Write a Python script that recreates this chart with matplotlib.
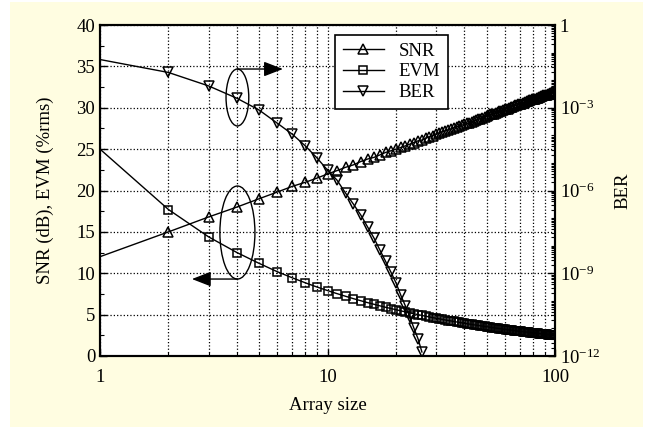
import matplotlib
matplotlib.use("Agg")
import matplotlib.pyplot as plt
from matplotlib.patches import Ellipse, Rectangle
from matplotlib.ticker import MultipleLocator, LogLocator, NullFormatter

plt.rcParams["font.family"] = ["Liberation Serif", "DejaVu Serif"]
plt.rcParams["font.size"] = 13
plt.rcParams["mathtext.fontset"] = "custom"
plt.rcParams["mathtext.rm"] = "Liberation Serif"
plt.rcParams["mathtext.it"] = "Liberation Serif:italic"

# array size 1..100
array_size = list(range(1, 101))

snr_db = [
    12.0, 15.0, 16.8, 18.0, 19.0, 19.8, 20.5, 21.0, 21.5, 22.0,
    22.4, 22.8, 23.1, 23.5, 23.8, 24.0, 24.3, 24.6, 24.8, 25.0,
    25.2, 25.4, 25.6, 25.8, 26.0, 26.1, 26.3, 26.5, 26.6, 26.8,
    26.9, 27.1, 27.2, 27.3, 27.4, 27.6, 27.7, 27.8, 27.9, 28.0,
    28.1, 28.2, 28.3, 28.4, 28.5, 28.6, 28.7, 28.8, 28.9, 29.0,
    29.1, 29.2, 29.2, 29.3, 29.4, 29.5, 29.6, 29.6, 29.7, 29.8,
    29.9, 29.9, 30.0, 30.1, 30.1, 30.2, 30.3, 30.3, 30.4, 30.5,
    30.5, 30.6, 30.6, 30.7, 30.8, 30.8, 30.9, 30.9, 31.0, 31.0,
    31.1, 31.1, 31.2, 31.2, 31.3, 31.3, 31.4, 31.4, 31.5, 31.5,
    31.6, 31.6, 31.7, 31.7, 31.8, 31.8, 31.9, 31.9, 32.0, 32.0,
]

evm_rms = [
    25.0, 17.7, 14.4, 12.5, 11.2, 10.2, 9.45, 8.84, 8.33, 7.91,
    7.54, 7.22, 6.93, 6.68, 6.45, 6.25, 6.06, 5.89, 5.74, 5.59,
    5.46, 5.33, 5.21, 5.10, 5.00, 4.90, 4.81, 4.72, 4.64, 4.56,
    4.49, 4.42, 4.35, 4.29, 4.23, 4.17, 4.11, 4.06, 4.00, 3.95,
    3.90, 3.86, 3.81, 3.77, 3.73, 3.69, 3.65, 3.61, 3.57, 3.54,
    3.50, 3.47, 3.43, 3.40, 3.37, 3.34, 3.31, 3.28, 3.25, 3.23,
    3.20, 3.18, 3.15, 3.13, 3.10, 3.08, 3.05, 3.03, 3.01, 2.99,
    2.97, 2.95, 2.93, 2.91, 2.89, 2.87, 2.85, 2.83, 2.81, 2.80,
    2.78, 2.76, 2.74, 2.73, 2.71, 2.70, 2.68, 2.67, 2.65, 2.64,
    2.62, 2.61, 2.59, 2.58, 2.56, 2.55, 2.54, 2.53, 2.51, 2.50,
]

# BER only down to ~1e-12 (array size 1..26)
ber_size = list(range(1, 27))
ber = [
    5.6e-2, 1.9e-2, 6.2e-3, 2.2e-3, 8.3e-4, 2.8e-4, 1.1e-4, 4.1e-5,
    1.5e-5, 5.5e-6, 2.4e-6, 8.1e-7, 3.2e-7, 1.3e-7, 4.8e-8, 1.9e-8,
    6.9e-9, 2.7e-9, 1.1e-9, 4.5e-10, 1.6e-10, 6.5e-11, 2.6e-11,
    1.0e-11, 4.2e-12, 1.4e-12,
]

fig = plt.figure(figsize=(6.49, 4.28), dpi=100, facecolor="white")
fig.patches.append(Rectangle((10 / 649, 1 - 427 / 428), 633 / 649, 425 / 428,
                             transform=fig.transFigure, facecolor="#fffde1",
                             edgecolor="none", zorder=-10))
ax = fig.add_axes([100 / 649, 1 - 356 / 428, 455 / 649, 331 / 428])
ax2 = ax.twinx()

line_kw = dict(color="black", lw=1.0, mfc="none", mec="black", mew=1.1)
l1, = ax.plot(array_size, snr_db, marker="^", ms=7, markevery=slice(1, None),
              label="SNR", **line_kw)
l2, = ax.plot(array_size, evm_rms, marker="s", ms=6, markevery=slice(1, None),
              label="EVM", **line_kw)
l3, = ax2.plot(ber_size, ber, marker="v", ms=7, markevery=slice(1, None),
               label="BER", **line_kw)

ax.set_xscale("log")
ax.set_xlim(1, 100)
ax.set_ylim(0, 40)
ax.set_xticks([1, 10, 100])
ax.set_xticklabels(["1", "10", "100"])
ax.xaxis.set_minor_locator(LogLocator(base=10, subs=range(2, 10)))
ax.xaxis.set_minor_formatter(NullFormatter())
ax.yaxis.set_major_locator(MultipleLocator(5))
ax.yaxis.set_minor_locator(MultipleLocator(2.5))

ax2.set_yscale("log")
ax2.set_ylim(1e-12, 1)
ax2.set_yticks([1e-12, 1e-9, 1e-6, 1e-3, 1])
ax2.set_yticklabels([r"$10^{-12}$", r"$10^{-9}$", r"$10^{-6}$", r"$10^{-3}$", "1"])
ax2.yaxis.set_minor_locator(LogLocator(base=10, subs=range(1, 10), numticks=100))
ax2.yaxis.set_minor_formatter(NullFormatter())

ax.grid(which="major", ls=":", color="black", lw=0.9)
ax.grid(which="minor", axis="x", ls=":", color="black", lw=0.9)

for a in (ax, ax2):
    a.tick_params(which="major", direction="in", length=5, width=1.0, labelsize=13.5)
    a.tick_params(which="minor", direction="in", length=3, width=0.8)
    for s in a.spines.values():
        s.set_linewidth(1.5)
ax.tick_params(axis="x", pad=9)

ax.set_xlabel("Array size", fontsize=13.5, labelpad=8)
ax.set_ylabel("SNR (dB), EVM (%rms)", fontsize=13.5, labelpad=16)
ax2.set_ylabel("BER", fontsize=13.5, labelpad=10)

# annotations: ellipses with arrows
ax2.add_patch(Ellipse((0.302, 0.781), 0.05, 0.172, transform=ax2.transAxes,
                      fill=False, ec="black", lw=1.0))
ax2.annotate("", xy=(0.402, 0.867), xytext=(0.302, 0.867),
             xycoords="axes fraction", textcoords="axes fraction",
             arrowprops=dict(arrowstyle="-|>,head_length=0.9,head_width=0.35",
                             color="black", lw=1.0, shrinkA=0, shrinkB=0))
ax2.add_patch(Ellipse((0.302, 0.373), 0.077, 0.281, transform=ax2.transAxes,
                      fill=False, ec="black", lw=1.0))
ax2.annotate("", xy=(0.202, 0.2325), xytext=(0.302, 0.2325),
             xycoords="axes fraction", textcoords="axes fraction",
             arrowprops=dict(arrowstyle="-|>,head_length=0.9,head_width=0.35",
                             color="black", lw=1.0, shrinkA=0, shrinkB=0))

leg = ax2.legend(handles=[l1, l2, l3], loc="upper right",
                 bbox_to_anchor=(0.765, 0.97), fontsize=13.5, fancybox=False,
                 framealpha=1, edgecolor="black", handlelength=2.2,
                 borderaxespad=0, labelspacing=0.2)
leg.get_frame().set_linewidth(1.2)

fig.savefig("out.png", dpi=100)
